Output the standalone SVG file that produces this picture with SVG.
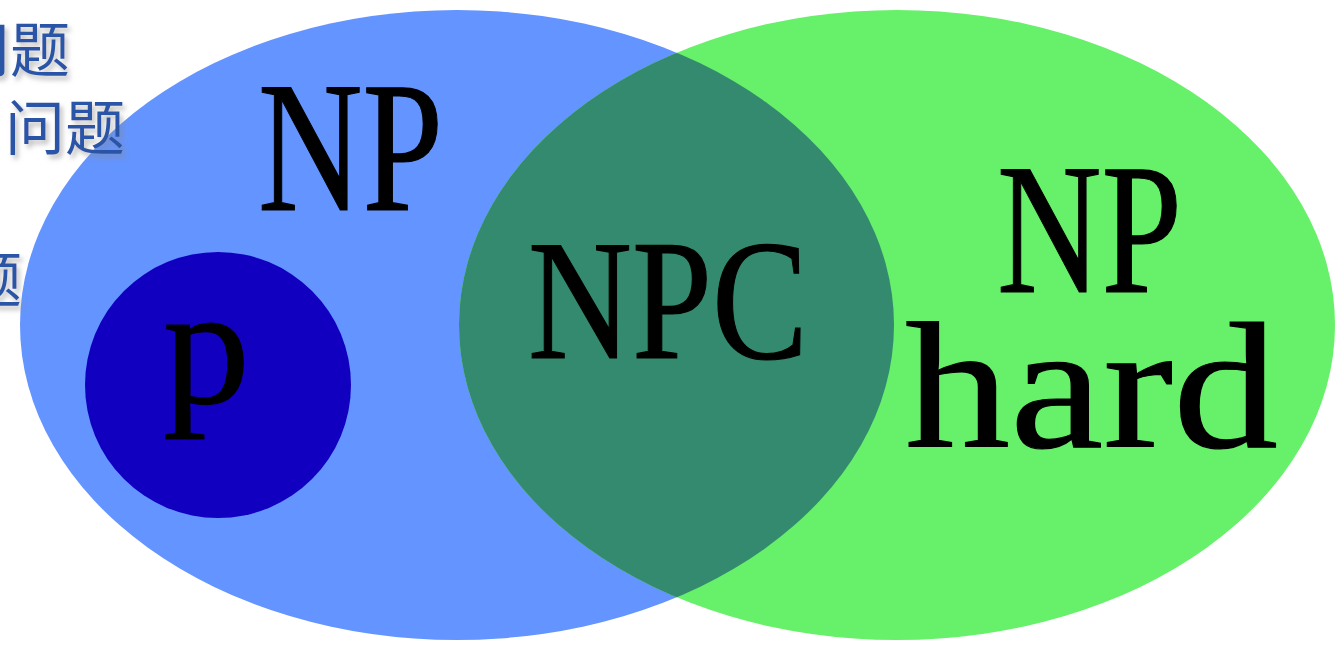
<svg xmlns="http://www.w3.org/2000/svg" width="1337" height="647" viewBox="0 0 1337 647">
  <style>
    .lbl { font-family: "Liberation Serif", "Times New Roman", serif; fill: #000; stroke: #000; stroke-width: 1.2px; }
    .cn { font-family: "Noto Sans CJK SC", sans-serif; font-size: 60px; fill: #2b55a6; filter: url(#shadow); }
  </style>
  <defs>
    <filter id="shadow" x="-20%" y="-20%" width="150%" height="150%">
      <feDropShadow dx="3" dy="4" stdDeviation="2.5" flood-color="#888" flood-opacity="0.55"/>
    </filter>
    <clipPath id="blueClip">
      <ellipse cx="457" cy="325" rx="437" ry="315"/>
    </clipPath>
  </defs>
  <rect width="1337" height="647" fill="#fff"/>

  <g id="np">
    <ellipse cx="457" cy="325" rx="437" ry="315" fill="#6394ff"/>
  </g>
  <g id="nphard">
    <ellipse cx="897" cy="325" rx="438" ry="315" fill="#67f06a"/>
  </g>
  <g id="npc">
    <ellipse cx="897" cy="325" rx="438" ry="315" fill="#348a6e" clip-path="url(#blueClip)"/>
  </g>
  <g id="p">
    <circle cx="218" cy="385" r="133" fill="#1100c0"/>
  </g>

  <g id="labels">
    <text class="lbl" x="258" y="210" font-size="186" textLength="185" lengthAdjust="spacingAndGlyphs">NP</text>
    <text class="lbl" x="163" y="403" font-size="170" textLength="87" lengthAdjust="spacingAndGlyphs">p</text>
    <text class="lbl" x="528" y="358" font-size="171" textLength="280" lengthAdjust="spacingAndGlyphs">NPC</text>
    <text class="lbl" x="997" y="292" font-size="186" textLength="185" lengthAdjust="spacingAndGlyphs">NP</text>
    <text class="lbl" x="905" y="447" font-size="180" textLength="373" lengthAdjust="spacingAndGlyphs">hard</text>
  </g>

  <g id="side-text">
    <text class="cn" x="-50" y="72">问题</text>
    <text class="cn" x="5" y="150">问题</text>
    <text class="cn" x="-38" y="302">题</text>
  </g>
</svg>
